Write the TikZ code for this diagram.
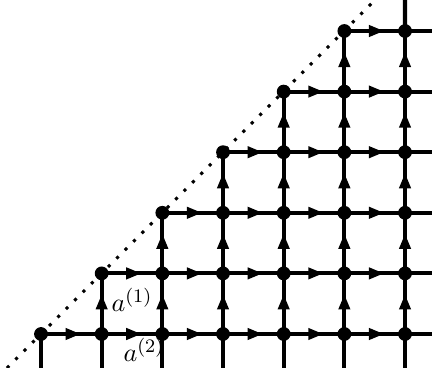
\documentclass[tikz,border=0pt]{standalone}
\usetikzlibrary{arrows.meta,decorations.markings}
\begin{document}
\begin{tikzpicture}[x=0.42pt,y=-0.42pt,
  dot/.style={circle,fill=black,inner sep=0pt,minimum size=5.8pt},
  grid/.style={line width=1.7pt},
  flow/.style={grid,postaction={decorate},decoration={markings,
    mark=at position 0.66 with {\arrow{Triangle[length=6.5pt,width=4.6pt]}}}},
  diag/.style={line width=1.3pt,dash pattern=on 1.3pt off 3.7pt},
  lab/.style={font=\fontsize{11}{13}\selectfont}]
\useasboundingbox (0,0) rectangle (432,368);
% dotted diagonal
\coordinate (d0) at (7,368);
\coordinate (d1) at (375,0);
\draw[diag] (d0) -- (d1);
% dot positions
\foreach \i in {0,...,6}{
  \foreach \j in {0,...,5}{
    \ifnum\i<\j\relax\else
      \coordinate (p-\i-\j) at ({41+60.67*\i},{334-60.6*\j});
    \fi
  }
}
% free ends
\foreach \j in {0,...,5}{ \coordinate (r-\j) at (432,{334-60.6*\j}); }
\foreach \i in {0,...,6}{ \coordinate (b-\i) at ({41+60.67*\i},368); }
\coordinate (t-6) at (405,0);
% horizontal edges
\foreach \j in {0,...,5}{
  \foreach \i in {\j,...,5}{
    \pgfmathtruncatemacro{\k}{\i+1}
    \draw[flow] (p-\i-\j) -- (p-\k-\j);
  }
  \draw[grid] (p-6-\j) -- (r-\j);
}
% vertical edges
\foreach \i in {1,...,6}{
  \pgfmathtruncatemacro{\m}{min(\i,5)-1}
  \foreach \j in {0,...,\m}{
    \pgfmathtruncatemacro{\k}{\j+1}
    \draw[flow] (p-\i-\j) -- (p-\i-\k);
  }
}
\foreach \i in {0,...,6}{ \draw[grid] (p-\i-0) -- (b-\i); }
\draw[grid] (p-6-5) -- (t-6);
% dots
\foreach \i in {0,...,6}{
  \foreach \j in {0,...,5}{
    \ifnum\i<\j\relax\else
      \node[dot] (v-\i-\j) at (p-\i-\j) {};
    \fi
  }
}
% labels
\node[lab] (l1) at (132,300) {$a^{(1)}$};
\node[lab] (l2) at (144,350) {$a^{(2)}$};
\end{tikzpicture}
\end{document}
